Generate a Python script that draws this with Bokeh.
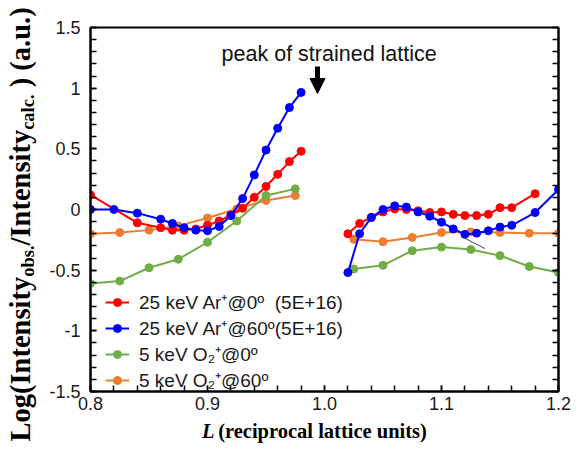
import numpy as np
from bokeh.plotting import figure
from bokeh.layouts import row, column
from bokeh.models import (Range1d, LinearAxis, FixedTicker, Label, Arrow, NormalHead,
                          Legend, LegendItem, CustomJSTickFormatter)
from bokeh.core.properties import value
from bokeh.embed import file_html
from bokeh.resources import INLINE

# ---------------- data ----------------
ar0_L_left = [0.80, 0.84, 0.86, 0.87, 0.88, 0.89, 0.90, 0.91, 0.92, 0.93, 0.94, 0.95, 0.96, 0.97, 0.98]
ar0_v_left = [0.12, -0.11, -0.15, -0.17, -0.17, -0.16, -0.13, -0.095, -0.045, 0.01, 0.10, 0.19, 0.29, 0.395, 0.48]
ar0_L_right = [1.02, 1.03, 1.04, 1.05, 1.06, 1.07, 1.08, 1.09, 1.10, 1.11, 1.12, 1.13, 1.14, 1.15, 1.16, 1.18]
ar0_v_right = [-0.20, -0.115, -0.065, -0.02, 0.005, 0.0, -0.01, -0.025, -0.02, -0.04, -0.05, -0.05, -0.04, 0.015, 0.015, 0.13]

ar60_L_left = [0.80, 0.82, 0.84, 0.86, 0.87, 0.88, 0.89, 0.90, 0.91, 0.92, 0.93, 0.94, 0.95, 0.96, 0.97, 0.98]
ar60_v_left = [0.0, 0.0, -0.03, -0.08, -0.115, -0.15, -0.17, -0.175, -0.14, -0.05, 0.09, 0.285, 0.49, 0.67, 0.84, 0.965]
ar60_L_right = [1.02, 1.03, 1.04, 1.05, 1.06, 1.07, 1.08, 1.09, 1.10, 1.11, 1.12, 1.13, 1.14, 1.15, 1.16, 1.18, 1.20]
ar60_v_right = [-0.52, -0.20, -0.065, 0.0, 0.03, 0.02, -0.02, -0.055, -0.105, -0.16, -0.205, -0.195, -0.175, -0.145, -0.13, -0.025, 0.165]

o_L_left = [0.80, 0.825, 0.85, 0.875, 0.90, 0.925, 0.95, 0.975]
o_L_right = [1.025, 1.05, 1.075, 1.10, 1.125, 1.15, 1.175, 1.20]
o0_v_left = [-0.61, -0.59, -0.48, -0.41, -0.27, -0.095, 0.115, 0.17]
o0_v_right = [-0.49, -0.46, -0.34, -0.31, -0.33, -0.38, -0.47, -0.52]
o60_v_left = [-0.20, -0.19, -0.17, -0.135, -0.07, 0.005, 0.075, 0.115]
o60_v_right = [-0.245, -0.265, -0.23, -0.19, -0.185, -0.19, -0.195, -0.195]

stray_L = [1.119, 1.137]
stray_v = [-0.232, -0.322]

series_names = ["25 keV Ar\u207a@0\u00ba\u00a0 (5E+16)", "25 keV Ar\u207a@60\u00ba(5E+16)",
                "5 keV O\u2082\u207a@0\u00ba", "5 keV O\u2082\u207a@60\u00ba"]
series_colors = ["#ff0000", "#0000ff", "#70ad47", "#ed7d31"]

y_major = [-1.5, -1.0, -0.5, 0.0, 0.5, 1.0, 1.5]
x_major = [0.8, 0.9, 1.0, 1.1, 1.2]

arrow_L = 0.994
arrow_v = [1.179, 0.956]
peak_text = "peak of strained lattice"
peak_pos = (1.004, 1.2775)

ytitle_pieces = ["Log(Intensity", "obs.", "/Intensity", "calc.", "\u00a0) (a.u.)"]
xtitle_pieces = ["L", "\u00a0(reciprocal lattice units)"]

SANS = "Liberation Sans"
SERIF = "Liberation Serif"

# ---------------- layout geometry (pixels) ----------------
TOTAL_W, TOTAL_H = 571, 443
YT_W = 38                     # strip for the y title
MAIN_W, MAIN_H = TOTAL_W - YT_W, 418
XT_H = TOTAL_H - MAIN_H       # strip for the x title
FRAME_L, FRAME_R, FRAME_T, FRAME_B = 90, 558, 27, 391   # in page pixels

# ---------------- main figure ----------------
p = figure(width=MAIN_W, height=MAIN_H, output_backend="svg", toolbar_location=None,
           x_range=Range1d(0.8, 1.2), y_range=Range1d(-1.5, 1.5),
           min_border_left=FRAME_L - YT_W, min_border_right=TOTAL_W - FRAME_R,
           min_border_top=FRAME_T, min_border_bottom=MAIN_H - FRAME_B)
p.grid.visible = False
p.outline_line_color = "black"
p.outline_line_width = 2

yt = FixedTicker(ticks=y_major, minor_ticks=list(np.round(np.arange(-1.5, 1.501, 0.1), 2)))
xt = FixedTicker(ticks=x_major, minor_ticks=list(np.round(np.arange(0.8, 1.2001, 0.02), 3)))

for ax in [p.xaxis[0], p.yaxis[0]]:
    ax.axis_line_width = 2
    ax.major_tick_in = 6
    ax.major_tick_out = 0
    ax.minor_tick_in = 6
    ax.minor_tick_out = 0
    ax.major_tick_line_width = 1.5
    ax.minor_tick_line_width = 1.5
    ax.major_label_text_font = SANS
    ax.major_label_text_font_size = "18px"
    ax.major_label_text_color = "#1a1a1a"

p.yaxis[0].ticker = yt
p.yaxis[0].formatter = CustomJSTickFormatter(code="return tick.toString();")
p.yaxis[0].major_label_standoff = 10
p.xaxis[0].ticker = xt
p.xaxis[0].formatter = CustomJSTickFormatter(code="return tick.toFixed(1);")
p.xaxis[0].major_label_standoff = 5

rax = LinearAxis(ticker=yt, formatter=CustomJSTickFormatter(code="return '';"),
                 axis_line_width=2, major_tick_in=6, major_tick_out=0,
                 minor_tick_in=6, minor_tick_out=0, major_tick_line_width=1.5,
                 minor_tick_line_width=1.5, major_label_standoff=0,
                 major_label_text_font_size="1px")
p.add_layout(rax, "right")

lefts = [(ar0_L_left, ar0_v_left), (ar60_L_left, ar60_v_left), (o_L_left, o0_v_left), (o_L_left, o60_v_left)]
rights = [(ar0_L_right, ar0_v_right), (ar60_L_right, ar60_v_right), (o_L_right, o0_v_right), (o_L_right, o60_v_right)]

rend = {}
for i in [3, 2, 0, 1]:
    c = series_colors[i]
    lx, ly = lefts[i]
    rx, ry = rights[i]
    l1 = p.line(lx, ly, line_color=c, line_width=2)
    s1 = p.scatter(lx, ly, size=8, fill_color=c, line_color=c)
    p.line(rx, ry, line_color=c, line_width=2)
    p.scatter(rx, ry, size=8, fill_color=c, line_color=c)
    rend[i] = [l1, s1]

p.line(stray_L, stray_v, line_color="#444444", line_width=1)

items = [LegendItem(label=series_names[i], renderers=rend[i]) for i in range(4)]
legend = Legend(items=items, location=(15, -2), padding=0, spacing=0,
                glyph_width=24, glyph_height=20, label_height=20, label_standoff=10,
                label_text_font=SANS, label_text_font_size="19px", label_text_color="#1a1a1a",
                label_text_line_height=1.0,
                border_line_alpha=0, background_fill_alpha=0, margin=0)
p.add_layout(legend)

p.add_layout(Arrow(end=NormalHead(size=15, fill_color="black", line_color="black"),
                   x_start=arrow_L, y_start=arrow_v[0], x_end=arrow_L, y_end=arrow_v[1],
                   line_width=5, line_color="black"))
p.add_layout(Label(x=peak_pos[0], y=peak_pos[1], text=peak_text, text_align="center",
                   text_baseline="alphabetic", text_font=SANS, text_font_size="21.5px",
                   text_color="#111111"))

# ---------------- title strips ----------------
TB = {" ": 250, "\u00a0": 250, "(": 333, ")": 333, ".": 250, "/": 278, "L": 667, "o": 500,
      "g": 500, "I": 389, "n": 556, "t": 333, "e": 444, "s": 389, "i": 278, "y": 500,
      "b": 556, "c": 444, "a": 500, "l": 278, "u": 556, "r": 444, "p": 556}
MID = 0.3375   # distance from baseline to the middle of the font box, in em

def tw(s, size):
    return sum(TB.get(ch, 500) for ch in s) / 1000.0 * size

def strip(w, h, xr, yr):
    f = figure(width=w, height=h, output_backend="svg", toolbar_location=None, title=None,
               x_range=xr, y_range=yr, x_axis_type=None, y_axis_type=None,
               min_border=0, min_border_left=0, min_border_right=0,
               min_border_top=0, min_border_bottom=0)
    f.grid.visible = False
    f.outline_line_color = None
    return f

# y title strip: coordinates = pixels, y measured up from the page bottom
yfig = strip(YT_W, TOTAL_H, Range1d(0, YT_W), Range1d(0, TOTAL_H))
F, S = 28.5, 18.5
sizes = [F, S, F, S, F]
baselines = [29.5, 33.5, 29.5, 33.5, 29.5]
ypos = TOTAL_H - 441
for txt, sz, bx in zip(ytitle_pieces, sizes, baselines):
    yfig.text(x=[bx - MID * sz], y=[ypos], text=[txt], angle=np.pi / 2, text_align="left",
              text_baseline="middle", text_font=value(SERIF), text_font_style=value("bold"),
              text_font_size=value(f"{sz}px"), text_color="black", text_line_height=1.0)
    ypos += tw(txt, sz)

# x title strip: x in page pixels, y measured up from the page bottom
xfig = strip(MAIN_W, XT_H, Range1d(YT_W, TOTAL_W), Range1d(0, XT_H))
XF = 20.5
xb = XT_H / 2.0
xfig.text(x=[165], y=[xb], text=[xtitle_pieces[0]], text_align="left",
          text_baseline="middle", text_font=value(SERIF), text_font_style=value("bold italic"),
          text_font_size=value(f"{XF}px"), text_color="black", text_line_height=1.0)
xfig.text(x=[165 + 0.611 * XF], y=[xb], text=[xtitle_pieces[1]], text_align="left",
          text_baseline="middle", text_font=value(SERIF), text_font_style=value("bold"),
          text_font_size=value(f"{XF}px"), text_color="black", text_line_height=1.0)

layout = row(yfig, column(p, xfig, spacing=0), spacing=0)
open("out.html", "w").write(file_html(layout, INLINE))
